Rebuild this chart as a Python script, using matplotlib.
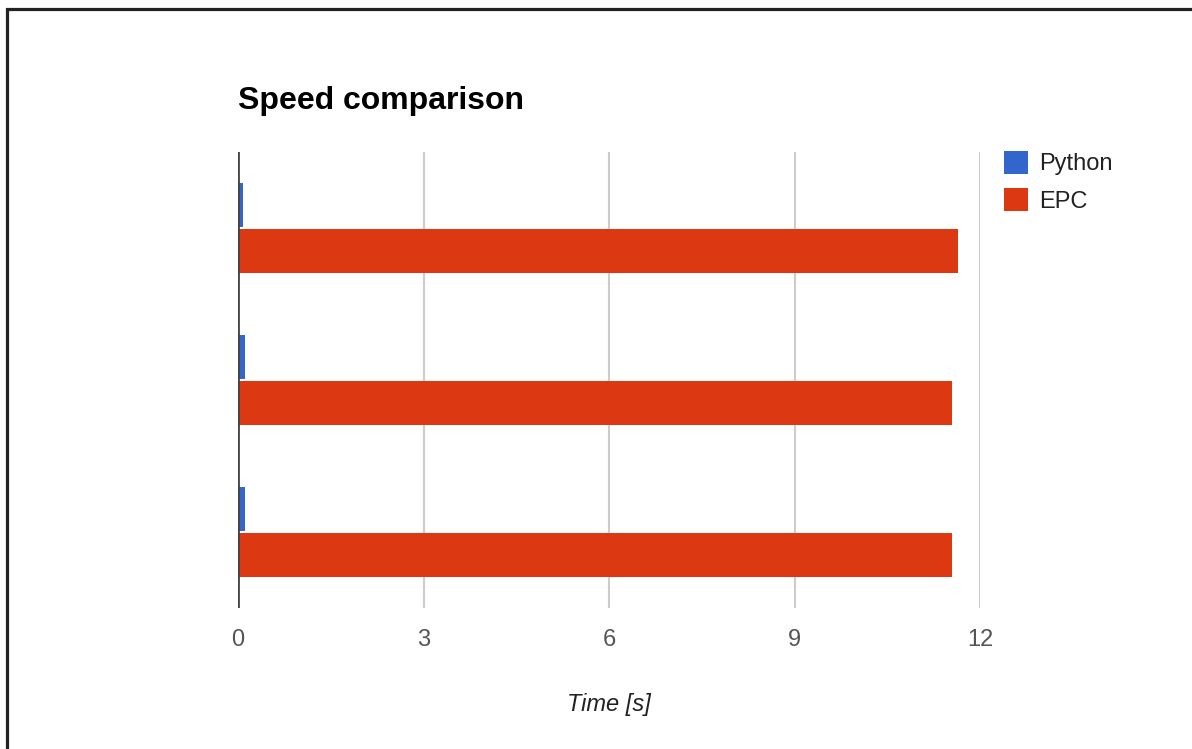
import matplotlib
matplotlib.use("Agg")
import matplotlib.pyplot as plt
from matplotlib.patches import Rectangle
import numpy as np

categories = ["Run 1", "Run 2", "Run 3"]
python_times = [0.08, 0.12, 0.12]
epc_times = [11.64, 11.55, 11.55]
series_names = ["Python", "EPC"]
xticks = [0, 3, 6, 9, 12]

plt.rcParams['font.family'] = ['Liberation Sans', 'DejaVu Sans']

W, H = 1192, 749
fig = plt.figure(figsize=(W / 100, H / 100), dpi=100)
fig.patch.set_facecolor("white")

# outer frame
fig.patches.append(Rectangle((7.5 / W, -0.1), 1.2, 1 - 8.5 / H + 0.1,
                             transform=fig.transFigure, fill=False,
                             edgecolor="#222222", linewidth=2.3, zorder=10))

ax = fig.add_axes([238 / W, 1 - 608 / H, (980 - 238) / W, (608 - 152) / H])

y = np.arange(len(categories))
h = 0.29
off = 0.15
ax.barh(y - off, python_times, height=h, color="#3366cc", label=series_names[0], zorder=3)
ax.barh(y + off, epc_times, height=h, color="#dc3912", label=series_names[1], zorder=3)

ax.set_xlim(0, 12)
ax.set_ylim(len(categories) - 0.5, -0.5)
ax.set_xticks(xticks)
ax.set_xticklabels([str(t) for t in xticks])
ax.set_yticks([])
for s in ax.spines.values():
    s.set_visible(False)
ax.grid(axis="x", color="#cccccc", linewidth=1.5, zorder=0)
ax.axvline(0, color="#444444", linewidth=2, zorder=4)
ax.tick_params(axis="x", length=0, pad=15, labelsize=17, labelcolor="#555555")

ax.set_xlabel("Time [s]", fontsize=17, style="italic", color="#222222", labelpad=30)

fig.text(238 / W, 1 - 101 / H, "Speed comparison", fontsize=23, fontweight="bold",
         ha="left", va="center", color="#000000")

ax.legend(loc="upper left", bbox_to_anchor=(1004 / W, 1 - 151 / H),
          bbox_transform=fig.transFigure, frameon=False, fontsize=17,
          handlelength=1.0, handleheight=1.1, handletextpad=0.5,
          labelspacing=0.55, borderpad=0, borderaxespad=0, labelcolor="#222222")

fig.savefig("out.png", dpi=100, facecolor="white")
